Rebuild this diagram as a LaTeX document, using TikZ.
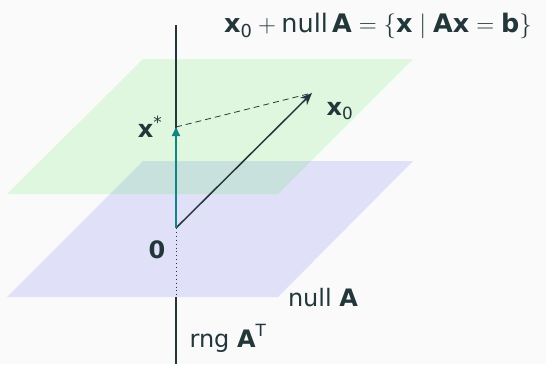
\documentclass[tikz,border=0pt]{standalone}
\usepackage{amsmath}
\usepackage{fontspec}
\setmainfont{DejaVu Sans}
\usetikzlibrary{arrows.meta}
\definecolor{bgc}{RGB}{250,250,250}
\definecolor{dk}{RGB}{35,55,59}
\definecolor{tealc}{RGB}{18,132,132}
\definecolor{bluepl}{RGB}{224,224,248}
\definecolor{greenpl}{RGB}{33,233,33}
\newcommand{\bx}[1]{\textbf{#1}}
\newcommand{\tf}[1]{\text{#1}}
\begin{document}
\begin{tikzpicture}[x=1pt,y=-1pt,
  lbl/.style={text=dk,font=\fontsize{24}{28}\selectfont,inner sep=0pt},
  axisln/.style={draw=dk,line width=1.3pt},
  vec/.style={draw=dk,line width=1.5pt,-{Stealth[length=12pt,width=10pt]}},
  tvec/.style={draw=tealc,line width=2pt,-{Triangle[length=9pt,width=8pt]}},
  dsh/.style={draw=dk,line width=0.8pt,dash pattern=on 6pt off 4pt},
  dtt/.style={draw=dk,line width=0.9pt,dash pattern=on 0.9pt off 3pt}]
\useasboundingbox[fill=bgc] (0,0) rectangle (546,364);
% planes
\fill[bluepl] (7,297) -- (278,297) -- (413,161) -- (143,161) -- cycle;
\fill[greenpl,fill opacity=0.12] (7,194) -- (278,194) -- (413,59) -- (143,59) -- cycle;
% points
\coordinate (top) at (176,25);
\coordinate (O) at (176,228);
\coordinate (pb) at (176,297);
\coordinate (bot) at (176,364);
\coordinate (xs) at (176,127);
\coordinate (xz) at (312,93);
% axis
\draw[axisln] (top) -- (O);
\draw[dtt] (O) -- (pb);
\draw[axisln] (pb) -- (bot);
% vectors
\draw[dsh] (xs) -- (xz);
\draw[vec] (O) -- (xz);
\draw[tvec] (O) -- (xs);
% labels
\node[lbl] (lxs) at (150,127) {$\bx{x}^{\text{*}}$};
\node[lbl] (lxz) at (340,111) {$\bx{x}_{\text{0}}$};
\node[lbl] (lO) at (157,250) {\bx{0}};
\node[lbl] (lnull) at (323,298) {null \bx{A}};
\node[lbl] (lrng) at (228,338) {rng $\bx{A}^{\text{T}}$};
\node[lbl,font=\fontsize{25.5}{30}\selectfont] (ltop) at (378,26) {$\bx{x}_{\text{0}} + \tf{null}\,\bx{A} = \{\bx{x} \mid \bx{A}\bx{x} = \bx{b}\}$};
\end{tikzpicture}
\end{document}
